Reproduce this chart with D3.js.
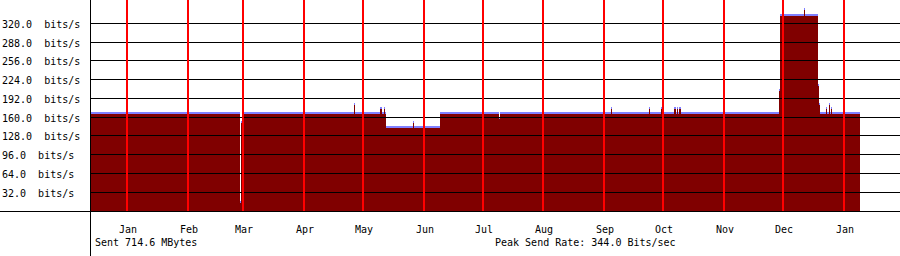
<!DOCTYPE html>
<meta charset="utf-8">
<style>
body { margin: 0; background: #fff; }
svg { display: block; }
text {
  font-family: "DejaVu Sans Mono", monospace;
  font-size: 10px;
  fill: #000;
  white-space: pre;
}
.grid { stroke: #000; stroke-width: 1px; shape-rendering: crispEdges; }
.month { stroke: #f00; stroke-width: 2px; shape-rendering: crispEdges; }
</style>
<body>
<script src="https://cdn.jsdelivr.net/npm/d3@7"></script>
<script>

var width = 900;
var height = 256;

// sent rate, step samples (time the value starts, bits/s)
var sampleTimes = [
  "2004-12-13T04:00", "2005-02-27T12:35", "2005-02-28T00:49", "2005-02-28T13:01",
  "2005-04-26T13:24", "2005-04-27T01:37", "2005-05-09T19:03", "2005-05-10T19:29",
  "2005-05-11T19:55", "2005-05-12T08:08", "2005-05-12T20:21", "2005-05-26T14:14",
  "2005-05-27T02:27", "2005-06-09T08:07", "2005-07-09T08:57", "2005-07-09T21:10",
  "2005-09-04T09:18", "2005-09-04T21:31", "2005-09-23T17:36", "2005-09-24T05:48",
  "2005-09-29T20:12", "2005-09-30T08:25", "2005-10-06T11:02", "2005-10-07T11:28",
  "2005-10-07T23:41", "2005-10-08T11:54", "2005-10-09T00:07", "2005-10-10T00:33",
  "2005-11-28T21:52", "2005-11-29T10:05", "2005-12-11T15:19", "2005-12-12T03:32",
  "2005-12-18T18:22", "2005-12-19T06:35", "2005-12-19T18:48", "2005-12-22T20:07",
  "2005-12-23T08:20", "2005-12-24T08:46", "2005-12-24T20:58", "2005-12-25T09:10",
  "2005-12-25T21:23", "2006-01-09T03:30"
];
var sampleValues = [
  167, 15, 152, 167,
  182, 167, 176, 167,
  176, 167, 143, 152,
  143, 167, 158, 167,
  176, 167, 176, 167,
  176, 167, 176, 167,
  176, 167, 176, 167,
  206, 334, 344, 334,
  215, 182, 167, 176,
  167, 182, 167, 176,
  167, 167
];

var yTicks = [32, 64, 96, 128, 160, 192, 224, 256, 288, 320];
var monthLabels = ["Jan", "Feb", "Mar", "Apr", "May", "Jun", "Jul",
                   "Aug", "Sep", "Oct", "Nov", "Dec", "Jan"];
var totalSent = "Sent 714.6 MBytes";
var peakRate = "Peak Send Rate: 344.0 Bits/sec";

var parse = d3.utcParse("%Y-%m-%dT%H:%M");
var data = sampleTimes.map(function(t, i) {
  return { t: parse(t), v: sampleValues[i] };
});

var left = 90, bottom = 211;

var x = d3.scaleUtc()
    .domain([new Date(Date.UTC(2005, 0, 1)), new Date(Date.UTC(2006, 0, 1))])
    .range([127, 844]);
var y = d3.scaleLinear()
    .domain([0, 320])
    .range([bottom, 23.3]);

var svg = d3.select("body").append("svg")
    .attr("width", width)
    .attr("height", height);

// purple peak band sits just above the dark red area
var bandArea = d3.area()
    .curve(d3.curveStepAfter)
    .x(function(d) { return x(d.t); })
    .y0(bottom)
    .y1(function(d) { return y(d.v) - 1; });
var rateArea = d3.area()
    .curve(d3.curveStepAfter)
    .x(function(d) { return x(d.t); })
    .y0(bottom)
    .y1(function(d) { return y(d.v) + 1; });

svg.append("path")
    .datum(data)
    .attr("d", bandArea)
    .attr("fill", "#8080ff")
    .attr("shape-rendering", "crispEdges");
svg.append("path")
    .datum(data)
    .attr("d", rateArea)
    .attr("fill", "#800000")
    .attr("shape-rendering", "crispEdges");

// horizontal grid
svg.append("g").selectAll("line")
    .data(yTicks)
  .enter().append("line")
    .attr("class", "grid")
    .attr("x1", left)
    .attr("x2", width)
    .attr("y1", function(d) { return Math.floor(y(d)) + 0.5; })
    .attr("y2", function(d) { return Math.floor(y(d)) + 0.5; });

// month lines
var months = d3.utcMonth.range(new Date(Date.UTC(2005, 0, 1)), new Date(Date.UTC(2006, 0, 2)));
svg.append("g").selectAll("line")
    .data(months)
  .enter().append("line")
    .attr("class", "month")
    .attr("x1", function(d) { return Math.round(x(d)); })
    .attr("x2", function(d) { return Math.round(x(d)); })
    .attr("y1", 0)
    .attr("y2", bottom);

// axes
svg.append("line")
    .attr("class", "grid")
    .attr("x1", 0).attr("x2", width)
    .attr("y1", bottom + 0.5).attr("y2", bottom + 0.5);
svg.append("line")
    .attr("class", "grid")
    .attr("x1", left + 0.5).attr("x2", left + 0.5)
    .attr("y1", 0).attr("y2", height);

// y labels
svg.append("g").selectAll("text")
    .data(yTicks)
  .enter().append("text")
    .attr("x", 2)
    .attr("y", function(d) { return Math.floor(y(d)) + 5; })
    .text(function(d) { return d.toFixed(1) + "  bits/s"; });

// month labels
svg.append("g").selectAll("text")
    .data(months)
  .enter().append("text")
    .attr("x", function(d) { return Math.round(x(d)) + 1; })
    .attr("y", 233)
    .attr("text-anchor", "middle")
    .text(function(d, i) { return monthLabels[i]; });

svg.append("text")
    .attr("x", 95)
    .attr("y", 246)
    .text(totalSent);
svg.append("text")
    .attr("x", 495)
    .attr("y", 246)
    .text(peakRate);

</script>
</body>
</html>
